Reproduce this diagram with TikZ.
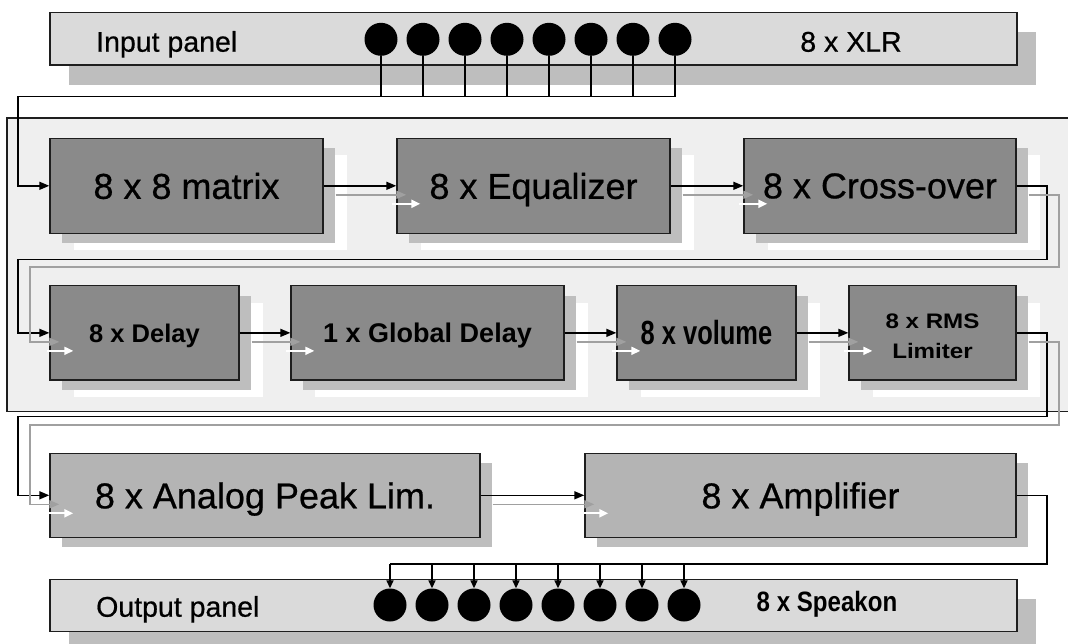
\documentclass[tikz,border=0pt]{standalone}
\usepackage{fontspec}
\usepackage{graphicx}
\setmainfont{Liberation Sans}
\newfontfamily\medfont{Liberation Sans}[FakeBold=0.6]
\usetikzlibrary{arrows.meta,calc,shadows}
\definecolor{cont}{HTML}{EFEFEF}
\definecolor{bord}{HTML}{1E1E1E}
\definecolor{dark}{HTML}{8A8A8A}
\definecolor{lite}{HTML}{B4B4B4}
\definecolor{pan}{HTML}{DADADA}
\definecolor{shd}{HTML}{BEBEBE}
\definecolor{gline}{HTML}{A0A0A0}
\begin{document}
\begin{tikzpicture}[x=1pt,y=-1pt,
  box/.style={draw=bord, line width=1.4pt, inner sep=0pt, text depth=0pt,
    general shadow={draw=none, fill=white, shadow xshift=24pt, shadow yshift=-17pt},
    general shadow={draw=none, fill=shd, shadow xshift=12pt, shadow yshift=-10pt}},
  dbox/.style={box, fill=dark, font=\medfont\fontsize{36}{40}\selectfont},
  lbox/.style={box, fill=lite, font=\medfont\fontsize{36}{40}\selectfont},
  panel/.style={draw=bord, line width=1.4pt, fill=pan, inner sep=0pt,
    general shadow={draw=none, fill=shd, shadow xshift=19pt, shadow yshift=-20pt}},
  ptext/.style={inner sep=0pt, font=\medfont\fontsize{28.5}{32}\selectfont},
  jack/.style={circle, fill=black, minimum size=33pt, inner sep=0pt},
  wire/.style={draw=black, line width=1.5pt},
  warrow/.style={wire, -{Triangle[length=10pt,width=8pt]}},
  oarrow/.style={wire, -{Triangle[length=8pt,width=7pt]}},
  garrow/.style={draw=gline, line width=1.5pt, -{Triangle[length=10pt,width=8pt]}},
  warr/.style={draw=white, line width=2pt, -{Triangle[length=9pt,width=8pt]}}]
\useasboundingbox (0,0) rectangle (1068,643);
\fill[white] (0,0) rectangle (1068,643);

% container
\draw[draw=bord, line width=1.2pt, fill=cont] (7,118) rectangle (1075,411.7);

% panels
\node[panel, minimum width=967pt, minimum height=52.7pt] (inp) at (533.5,38.65) {};
\node[panel, minimum width=967pt, minimum height=52.4pt] (outp) at (533.5,605.5) {};
\node[ptext, anchor=base west] (inlab) at (96,51.7) {Input panel};
\node[ptext, anchor=base] (xlr) at (851,51.7) {8 x XLR};
\node[ptext, anchor=base west] (outlab) at (96,616.7) {Output panel};
\node[ptext, anchor=base, font=\fontsize{28}{32}\selectfont\bfseries] (spk) at (827,611.7) {\scalebox{0.86}[1]{8 x Speakon}};

% boxes row 1
\node[dbox, minimum width=273pt, minimum height=95pt] (mat) at (186.5,185.8) {8 x 8 matrix};
\node[dbox, minimum width=273pt, minimum height=95pt] (equ) at (533.5,185.8) {8 x Equalizer};
\node[dbox, minimum width=272pt, minimum height=95pt] (cro) at (880,185.8) {8 x Cross-over};
% row 2
\node[dbox, minimum width=189pt, minimum height=94.3pt, font=\fontsize{25.5}{30}\selectfont\bfseries] (del) at (144.5,332.85) {8 x Delay};
\node[dbox, minimum width=273pt, minimum height=94.3pt, font=\fontsize{27}{30}\selectfont\bfseries] (glo) at (427.5,332.85) {1 x Global Delay};
\node[dbox, minimum width=179pt, minimum height=94.3pt, font=\fontsize{33.5}{36}\selectfont\bfseries] (vol) at (706.5,332.85) {\scalebox{0.76}[1]{8 x volume}};
\node[dbox, minimum width=167pt, minimum height=94.3pt] (rms) at (932.5,332.85) {};
\node[inner sep=0pt, text depth=0pt, align=center, font=\fontsize{21}{30}\selectfont\bfseries] (rmst) at (932.5,336) {\scalebox{1.15}[1]{8 x RMS}\\\scalebox{1.15}[1]{Limiter}};
% row 3
\node[lbox, minimum width=430pt, minimum height=84pt] (ana) at (265,495.3) {8 x Analog Peak Lim.};
\node[lbox, minimum width=431pt, minimum height=84pt] (amp) at (800.5,495.3) {8 x Amplifier};

% input jacks and bus
\coordinate (busl) at (18,96.7);
\foreach \k in {1,...,8} {
  \node[jack] (i\k) at ({381+42*(\k-1)},39.3) {};
  \draw[wire] (i\k.south) -- (i\k |- busl);
}
\draw[warrow] (i8 |- busl) -- (busl) -- (busl |- mat.west) -- (mat.west);

% straight connectors
\foreach \a/\b in {mat/equ, equ/cro, del/glo, glo/vol, vol/rms, ana/amp} {
  \draw[warrow] (\a.east) -- (\b.west);
  \draw[garrow] ($(\a.east)+(12,9)$) -- ($(\b.west)+(10,9)$);
  \draw[warr] ($(\b.west)+(-4,18)$) -- ($(\b.west)+(24,18)$);
}

% cross-over -> delay
\coordinate (c1r) at (1047,259.3);
\coordinate (c1l) at (18,259.3);
\coordinate (g1r) at (1059,267);
\coordinate (g1l) at (30,267);
\draw[warrow] (cro.east) -- (cro.east -| c1r) -- (c1r) -- (c1l) -- (c1l |- del.west) -- (del.west);
\draw[garrow] ($(cro.east)+(12,9)$) -| (g1r) -- (g1l) |- ($(del.west)+(10,9)$);
\draw[warr] ($(del.west)+(-2,18)$) -- ($(del.west)+(24,18)$);

% rms -> analog
\coordinate (c2r) at (1047,416.5);
\coordinate (c2l) at (18,416.5);
\coordinate (g2r) at (1059,425);
\coordinate (g2l) at (30,425);
\draw[warrow] (rms.east) -- (rms.east -| c2r) -- (c2r) -- (c2l) -- (c2l |- ana.west) -- (ana.west);
\draw[garrow] ($(rms.east)+(12,9)$) -| (g2r) -- (g2l) |- ($(ana.west)+(10,9)$);
\draw[warr] ($(ana.west)+(-2,18)$) -- ($(ana.west)+(24,18)$);

% output jacks
\coordinate (ar) at (1047,564);
\foreach \k in {1,...,8} {
  \node[jack] (o\k) at ({390+42*(\k-1)},605) {};
}
\draw[wire] (amp.east) -- (amp.east -| ar) -- (ar) -- (o1 |- ar);
\foreach \k in {1,...,8} {
  \draw[oarrow] (o\k |- ar) -- (o\k.north);
}
\end{tikzpicture}
\end{document}
